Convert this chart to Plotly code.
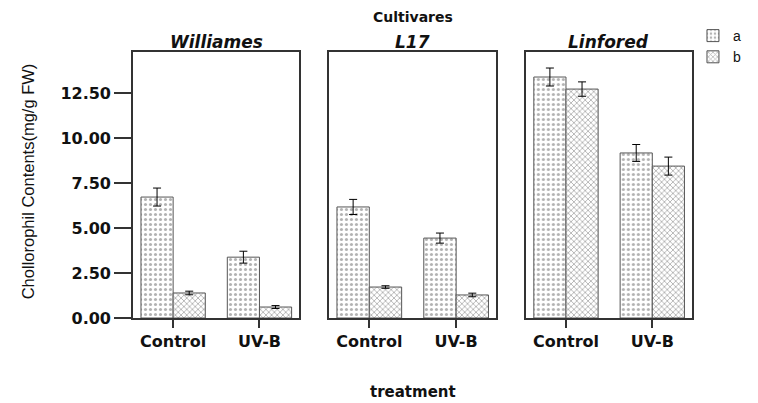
import plotly.graph_objects as go
from plotly.subplots import make_subplots

cultivars = ["Williames", "L17", "Linfored"]
treatments = ["Control", "UV-B"]
series_names = ["a", "b"]

# values per cultivar: [Control, UV-B]
a_values = {"Williames": [6.72, 3.38], "L17": [6.17, 4.44], "Linfored": [13.39, 9.17]}
a_errors = {"Williames": [0.50, 0.33], "L17": [0.42, 0.28], "Linfored": [0.50, 0.47]}
b_values = {"Williames": [1.39, 0.61], "L17": [1.72, 1.28], "Linfored": [12.72, 8.44]}
b_errors = {"Williames": [0.10, 0.08], "L17": [0.07, 0.10], "Linfored": [0.40, 0.50]}

y_ticks = [0.0, 2.5, 5.0, 7.5, 10.0, 12.5]
y_tick_labels = ["0.00", "2.50", "5.00", "7.50", "10.00", "12.50"]

# page has an 8px body margin, so the figure is drawn at (8, 8)
OFF = 8
W, H = 758 - OFF, 403 - OFF
L, R, T, B = 133 - OFF, 43, 52 - OFF, 85
pw = W - L - R
ph = H - T - B
panel_px = [(133, 306), (337, 511), (542, 715)]
domains = [((a - 133) / pw, (b - 133) / pw) for a, b in panel_px]

fig = make_subplots(rows=1, cols=3, shared_yaxes=True, horizontal_spacing=0.05)

pat_a = dict(shape=".", fgcolor="#666666", bgcolor="white", size=5, solidity=0.3)
pat_b = dict(shape="x", fgcolor="#666666", bgcolor="white", size=4, solidity=0.4)

for i, cv in enumerate(cultivars):
    fig.add_trace(go.Bar(
        x=treatments, y=a_values[cv], name="a", legendgroup="a", showlegend=(i == 0),
        marker=dict(color="white", pattern=pat_a, line=dict(color="#555555", width=1)),
        error_y=dict(type="data", array=a_errors[cv], color="black", thickness=1, width=4),
    ), row=1, col=i + 1)
    fig.add_trace(go.Bar(
        x=treatments, y=b_values[cv], name="b", legendgroup="b", showlegend=(i == 0),
        marker=dict(color="white", pattern=pat_b, line=dict(color="#555555", width=1)),
        error_y=dict(type="data", array=b_errors[cv], color="black", thickness=1, width=4),
    ), row=1, col=i + 1)

tick_font = dict(family="DejaVu Sans", size=16, color="#111111", weight="bold")
axis_line = dict(showline=True, linecolor="#333333", linewidth=1.6, mirror=True)

for i in range(3):
    xa = "xaxis" if i == 0 else f"xaxis{i+1}"
    ya = "yaxis" if i == 0 else f"yaxis{i+1}"
    fig.layout[xa].update(domain=list(domains[i]), range=[-0.465, 1.46], ticks="outside",
                          ticklen=8, tickwidth=1.5, tickcolor="#333333", tickfont=tick_font,
                          showgrid=False, zeroline=False, **axis_line)
    fig.layout[ya].update(range=[0, 14.78], showgrid=False, zeroline=False, **axis_line)

fig.layout.yaxis.update(tickvals=y_ticks, ticktext=y_tick_labels, ticks="outside", ticklen=17,
                        tickwidth=1.5, tickcolor="#333333", tickfont=tick_font, showticklabels=True)
fig.layout.yaxis2.update(showticklabels=False, ticks="")
fig.layout.yaxis3.update(showticklabels=False, ticks="")


def px_x(page_x):
    return (page_x - 133) / pw


def px_y(page_y):
    return (318 - page_y) / ph


annotations = []
for i, cv in enumerate(cultivars):
    annotations.append(dict(text=cv, x=(domains[i][0] + domains[i][1]) / 2, y=px_y(42), xref="paper", yref="paper",
                            xanchor="center", yanchor="middle", showarrow=False,
                            font=dict(family="DejaVu Sans", size=17, color="#111111", weight="bold", style="italic")))
annotations.append(dict(text="Cultivares", x=px_x(424), y=px_y(17), xref="paper", yref="paper",
                        xanchor="center", yanchor="middle", showarrow=False,
                        font=dict(family="DejaVu Sans", size=14, color="#111111", weight="bold")))
annotations.append(dict(text="treatment", x=px_x(424), y=px_y(392), xref="paper", yref="paper",
                        xanchor="center", yanchor="middle", showarrow=False,
                        font=dict(family="DejaVu Sans", size=15, color="#111111", weight="bold")))
annotations.append(dict(text="Chollorophil Contents(mg/g FW)", x=px_x(24), y=px_y(181),
                        xref="paper", yref="paper", xanchor="center", yanchor="middle", textangle=-90,
                        showarrow=False,
                        font=dict(family="Liberation Sans", size=16.5, color="#111111")))
fig.update_layout(annotations=annotations)

fig.update_layout(
    width=W, height=H,
    margin=dict(l=L, r=R, t=T, b=B),
    paper_bgcolor="white", plot_bgcolor="white",
    barmode="group", bargap=0.255, bargroupgap=0,
    showlegend=True,
    legend=dict(x=px_x(716), y=px_y(20), xanchor="left", yanchor="top",
                font=dict(family="Liberation Sans", size=14, color="#111111"),
                bgcolor="rgba(0,0,0,0)", itemwidth=30, tracegroupgap=0,
                traceorder="normal"),
)

fig.write_html("out.html")
